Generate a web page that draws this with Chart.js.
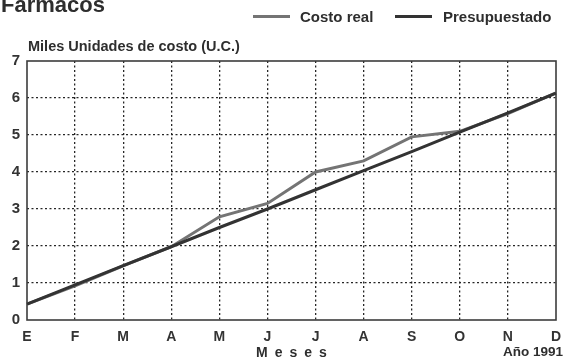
<!DOCTYPE html>
<html>
<head>
<meta charset="utf-8">
<script src="https://cdn.jsdelivr.net/npm/chart.js@4.4.0/dist/chart.umd.min.js"></script>
<style>
  html, body { margin: 0; padding: 0; background: #fff; }
  #wrap { width: 564px; height: 360px; position: relative; }
</style>
</head>
<body>
<div id="wrap"><canvas id="c" width="564" height="360"></canvas></div>
<script>
// Months of 1991 (Spanish initials)
const meses = ['E', 'F', 'M', 'A', 'M', 'J', 'J', 'A', 'S', 'O', 'N', 'D'];
// Thousands of cost units (U.C.)
const costoReal = [0.43, 0.92, 1.46, 1.98, 2.79, 3.15, 4.0, 4.3, 4.95, 5.1, 5.58, 6.14];
const presupuestado = [0.43, 0.95, 1.47, 1.98, 2.5, 3.0, 3.52, 4.04, 4.55, 5.08, 5.6, 6.13];
const yTicks = [0, 1, 2, 3, 4, 5, 6, 7];

const colReal = '#747474';
const colPres = '#333333';
const FONT = '"Liberation Sans", Arial, Helvetica, sans-serif';

const gridColor = (ctx) => {
  const n = ctx.scale.ticks.length;
  return (ctx.index === 0 || ctx.index === n - 1) ? 'rgba(0,0,0,0)' : '#262626';
};

const decor = {
  id: 'decor',
  beforeDraw(chart) {
    const c = chart.ctx;
    c.save();
    c.fillStyle = '#ffffff';
    c.fillRect(0, 0, chart.width, chart.height);
    c.restore();
  },
  beforeDatasetsDraw(chart) {
    const c = chart.ctx;
    const a = chart.chartArea;
    c.save();
    c.strokeStyle = '#3c3c3c';
    c.lineWidth = 1.6;
    c.strokeRect(a.left, a.top, a.right - a.left, a.bottom - a.top);
    c.restore();
  },
  afterDraw(chart) {
    const c = chart.ctx;
    const a = chart.chartArea;
    c.save();
    c.fillStyle = '#2e2e2e';
    c.textAlign = 'left';
    c.textBaseline = 'alphabetic';

    // heading
    c.font = 'bold 22px ' + FONT;
    c.fillText('Fármacos', 1, 12);

    // legend
    c.lineWidth = 3;
    c.lineCap = 'butt';
    c.strokeStyle = colReal;
    c.beginPath(); c.moveTo(253, 16.5); c.lineTo(290, 16.5); c.stroke();
    c.strokeStyle = colPres;
    c.beginPath(); c.moveTo(395, 16.5); c.lineTo(432, 16.5); c.stroke();
    c.font = 'bold 15px ' + FONT;
    c.textBaseline = 'middle';
    c.fillText('Costo real', 300, 18);
    c.fillText('Presupuestado', 443, 18);

    // y-axis title
    c.textBaseline = 'alphabetic';
    c.font = 'bold 14.5px ' + FONT;
    c.fillText('Miles Unidades de costo (U.C.)', a.left + 1, 50.5);

    // x-axis titles
    c.font = 'bold 14px ' + FONT;
    c.textBaseline = 'middle';
    c.letterSpacing = '7px';
    c.fillText('Meses', 256, 353);
    c.letterSpacing = '0px';
    c.font = 'bold 13.5px ' + FONT;
    c.textAlign = 'right';
    c.fillText('Año 1991', 563, 352);
    c.restore();
  }
};

new Chart(document.getElementById('c'), {
  type: 'line',
  data: {
    labels: meses,
    datasets: [
      {
        label: 'Costo real',
        data: costoReal,
        borderColor: colReal,
        borderWidth: 3,
        pointRadius: 0,
        tension: 0,
        fill: false,
        order: 1
      },
      {
        label: 'Presupuestado',
        data: presupuestado,
        borderColor: colPres,
        borderWidth: 3,
        pointRadius: 0,
        tension: 0,
        fill: false,
        order: 0
      }
    ]
  },
  options: {
    responsive: false,
    animation: false,
    devicePixelRatio: 1,
    layout: { padding: { top: 61, right: 8, left: 0, bottom: 0 } },
    plugins: {
      legend: { display: false },
      tooltip: { enabled: false },
      title: { display: false }
    },
    scales: {
      x: {
        type: 'category',
        offset: false,
        grid: { color: gridColor, lineWidth: 1.3, drawTicks: false },
        border: { display: false, dash: [2, 2.5] },
        ticks: {
          color: '#333',
          font: { family: FONT, size: 14, weight: 'bold' },
          padding: 9,
          maxRotation: 0,
          autoSkip: false
        },
        afterFit(scale) {
          scale.height = 40;
          scale.paddingRight = 0;
          scale.paddingLeft = 0;
        }
      },
      y: {
        min: 0,
        max: 7,
        afterBuildTicks(scale) { scale.ticks = yTicks.map(v => ({ value: v })); },
        grid: { color: gridColor, lineWidth: 1.3, drawTicks: false },
        border: { display: false, dash: [2, 2.5] },
        ticks: {
          color: '#333',
          font: { family: FONT, size: 15, weight: 'bold' },
          padding: 7
        },
        afterFit(scale) { scale.width = 27; }
      }
    }
  },
  plugins: [decor]
});
</script>
</body>
</html>
